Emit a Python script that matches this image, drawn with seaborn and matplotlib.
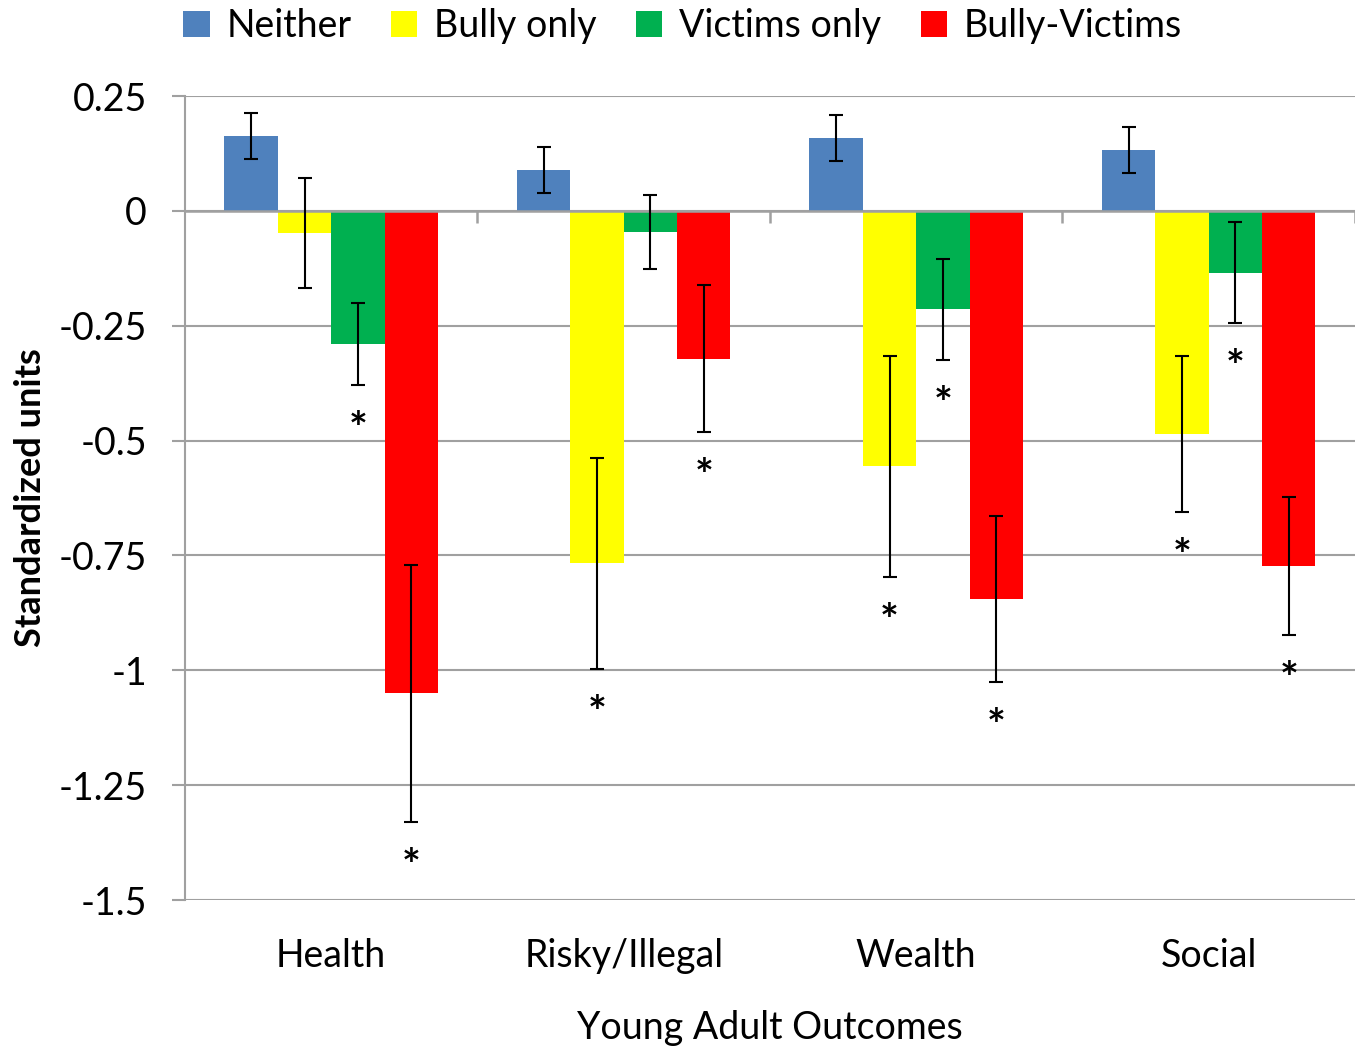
import numpy as np
import pandas as pd
import matplotlib
matplotlib.use("Agg")
import matplotlib.pyplot as plt
import seaborn as sns

categories = ["Health", "Risky/Illegal", "Wealth", "Social"]
groups = ["Neither", "Bully only", "Victims only", "Bully-Victims"]

neither = [0.163, 0.089, 0.159, 0.133]
bully_only = [-0.048, -0.767, -0.556, -0.486]
victims_only = [-0.290, -0.046, -0.214, -0.135]
bully_victims = [-1.050, -0.322, -0.845, -0.773]

neither_err = [0.050, 0.050, 0.050, 0.050]
bully_only_err = [0.120, 0.230, 0.240, 0.170]
victims_only_err = [0.090, 0.080, 0.110, 0.110]
bully_victims_err = [0.280, 0.160, 0.180, 0.150]

neither_sig = [False, False, False, False]
bully_only_sig = [False, True, True, True]
victims_only_sig = [True, False, True, True]
bully_victims_sig = [True, True, True, True]

colors = ["#4F81BD", "#FFFF00", "#00B050", "#FF0000"]

values = [neither, bully_only, victims_only, bully_victims]
errs = [neither_err, bully_only_err, victims_only_err, bully_victims_err]
sigs = [neither_sig, bully_only_sig, victims_only_sig, bully_victims_sig]

rows = []
for g, vals in zip(groups, values):
    for c, v in zip(categories, vals):
        rows.append({"Outcome": c, "Group": g, "Value": v})
df = pd.DataFrame(rows)

sns.set_style("white")
plt.rcParams["font.family"] = ["Lato", "DejaVu Sans"]
plt.rcParams["text.color"] = "black"
plt.rcParams["axes.labelcolor"] = "black"
plt.rcParams["xtick.color"] = "black"
plt.rcParams["ytick.color"] = "black"

fig = plt.figure(figsize=(13.63, 10.55), dpi=100)
ax = fig.add_axes([0.1357, 0.1469, 0.8584, 0.7621])

sns.barplot(data=df, x="Outcome", y="Value", hue="Group", order=categories,
            hue_order=groups, palette=colors, saturation=1, width=0.73,
            errorbar=None, linewidth=0, ax=ax, zorder=3)

grid_color = "#A0A0A0"
for cont, err, sig in zip(ax.containers, errs, sigs):
    xs = [b.get_x() + b.get_width() / 2 for b in cont]
    ys = [b.get_height() for b in cont]
    ax.errorbar(xs, ys, yerr=err, fmt="none", ecolor="black", elinewidth=1.5,
                capsize=5, capthick=1.5, zorder=5)
    for x, y, e, s in zip(xs, ys, err, sig):
        if s:
            ax.text(x, y - e - 0.098, "*", ha="center", va="center",
                    fontsize=32, fontweight="bold", color="black", zorder=6)

ax.set_xlim(-0.5, 3.5)
ax.set_ylim(-1.5, 0.25)
ax.set_yticks([0.25, 0, -0.25, -0.5, -0.75, -1, -1.25, -1.5])
ax.set_yticklabels(["0.25", "0", "-0.25", "-0.5", "-0.75", "-1", "-1.25", "-1.5"])
ax.yaxis.grid(True, color=grid_color, linewidth=1.5, zorder=0)
ax.set_axisbelow(True)

# zero axis line with category boundary tick marks
ax.axhline(0, color=grid_color, linewidth=1.8, zorder=4)
ax.vlines([0.5, 1.5, 2.5, 3.5], 0, -0.027, color=grid_color, linewidth=1.8, zorder=4)

for side in ["top", "right", "bottom"]:
    ax.spines[side].set_visible(False)
ax.spines["left"].set_color(grid_color)
ax.spines["left"].set_linewidth(1.5)

ax.tick_params(axis="y", which="major", length=9.5, width=1.5, color=grid_color,
               labelsize=27, labelcolor="black", pad=18, left=True)
ax.tick_params(axis="x", length=0, labelsize=27, labelcolor="black", pad=27)

ax.set_xlabel("Young Adult Outcomes", fontsize=27, labelpad=26)
ax.set_ylabel("Standardized units", fontsize=26, fontweight="bold", labelpad=8)

handles, labels = ax.get_legend_handles_labels()
if ax.get_legend() is not None:
    ax.get_legend().remove()
fig.legend(handles, labels, loc="upper center", bbox_to_anchor=(0.501, 1.024),
           ncol=4, frameon=False, fontsize=27, handlelength=0.7,
           handleheight=0.7, handletextpad=0.45, columnspacing=1.05)

fig.savefig("out.png", dpi=100)
